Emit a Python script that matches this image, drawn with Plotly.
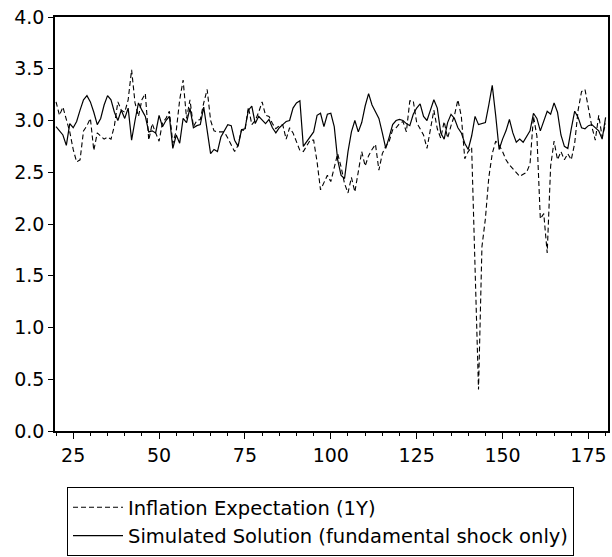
import plotly.graph_objects as go

obs = list(range(20, 181))

inflation_expectation = [
    3.18, 3.05, 3.13, 3.02, 2.89, 2.72, 2.60, 2.62, 2.90, 2.95,   # 20-29
    3.02, 2.71, 2.88, 2.85, 2.82, 2.84, 2.82, 2.95, 3.18, 3.10,   # 30-39
    3.08, 3.20, 3.49, 3.17, 3.04, 3.20, 3.26, 2.81, 2.97, 2.88,   # 40-49
    2.80, 2.98, 3.02, 3.09, 2.78, 2.90, 3.20, 3.39, 3.02, 3.20,   # 50-59
    2.94, 3.00, 3.01, 3.17, 3.30, 3.00, 2.90, 2.89, 2.89, 2.89,   # 60-69
    2.83, 2.76, 2.70, 2.76, 2.91, 2.90, 3.13, 2.96, 3.00, 3.08,   # 70-79
    3.18, 3.05, 3.04, 2.97, 2.92, 2.95, 2.96, 2.82, 2.93, 2.88,   # 80-89
    2.80, 2.71, 2.70, 2.76, 2.81, 2.81, 2.60, 2.33, 2.40, 2.47,   # 90-99
    2.41, 2.55, 2.68, 2.55, 2.39, 2.30, 2.45, 2.31, 2.50, 2.70,   # 100-109
    2.56, 2.66, 2.72, 2.77, 2.52, 2.68, 2.75, 2.80, 2.91, 2.93,   # 110-119
    2.97, 2.99, 2.89, 3.19, 3.19, 2.98, 2.92, 2.86, 2.73, 2.92,   # 120-129
    3.10, 2.92, 2.83, 2.99, 2.83, 2.95, 3.05, 3.20, 3.04, 2.63,   # 130-139
    2.70, 2.74, 1.55, 0.40, 1.78, 2.05, 2.45, 2.68, 2.80, 2.76,   # 140-149
    2.70, 2.62, 2.57, 2.53, 2.49, 2.46, 2.48, 2.50, 2.58, 3.04,   # 150-159
    2.85, 2.05, 2.10, 1.72, 2.56, 2.80, 2.62, 2.70, 2.62, 2.68,   # 160-169
    2.62, 2.78, 3.10, 3.28, 3.30, 3.10, 2.94, 2.81, 3.05, 2.84,   # 170-179
    2.97,                                                         # 180
]

simulated_solution = [
    2.94, 2.90, 2.86, 2.76, 2.97, 2.93, 2.99, 3.10, 3.20, 3.24,   # 20-29
    3.18, 3.08, 2.96, 3.02, 3.15, 3.24, 3.20, 3.08, 3.00, 3.10,   # 30-39
    3.02, 3.12, 2.81, 3.00, 3.17, 3.10, 3.04, 2.89, 2.90, 2.88,   # 40-49
    3.05, 2.94, 3.00, 3.04, 2.73, 2.86, 2.78, 3.02, 2.98, 3.12,   # 50-59
    2.93, 2.95, 2.96, 3.13, 2.90, 2.68, 2.72, 2.70, 2.84, 2.90,   # 60-69
    2.96, 2.95, 2.81, 2.75, 2.91, 2.92, 3.10, 3.14, 2.97, 3.04,   # 70-79
    3.00, 2.97, 3.01, 2.93, 2.88, 2.93, 2.96, 2.99, 3.00, 3.12,   # 80-89
    3.17, 3.19, 2.75, 2.80, 2.85, 2.89, 3.05, 3.07, 2.94, 3.06,   # 90-99
    3.07, 2.94, 2.62, 2.47, 2.44, 2.70, 2.89, 3.00, 2.89, 2.98,   # 100-109
    3.14, 3.26, 3.15, 3.08, 3.02, 2.88, 2.73, 2.84, 2.96, 3.00,   # 110-119
    3.01, 3.00, 2.97, 2.95, 3.06, 3.12, 3.16, 3.04, 3.00, 3.10,   # 120-129
    3.20, 3.12, 2.88, 2.82, 2.98, 3.06, 3.02, 2.93, 2.88, 2.78,   # 130-139
    2.72, 2.85, 3.04, 2.96, 2.97, 2.98, 3.15, 3.34, 3.05, 2.72,   # 140-149
    2.82, 2.90, 3.01, 2.88, 2.79, 2.82, 2.79, 2.84, 2.90, 3.07,   # 150-159
    3.02, 2.90, 3.00, 3.09, 3.06, 3.17, 3.08, 2.86, 2.75, 2.73,   # 160-169
    2.92, 3.09, 3.03, 2.93, 2.92, 2.95, 2.96, 2.93, 2.90, 2.82,   # 170-179
    3.03,                                                         # 180
]

x_ticks = [25, 50, 75, 100, 125, 150, 175]
y_ticks = [0.0, 0.5, 1.0, 1.5, 2.0, 2.5, 3.0, 3.5, 4.0]

FONT = "DejaVu Sans, Liberation Sans, Arial, sans-serif"

fig = go.Figure()
fig.add_trace(go.Scatter(
    x=obs, y=inflation_expectation, mode="lines",
    name="Inflation Expectation (1Y)",
    line=dict(color="black", width=1.1, dash="5px,3px"),
))
fig.add_trace(go.Scatter(
    x=obs, y=simulated_solution, mode="lines",
    name="Simulated Solution (fundamental shock only)",
    line=dict(color="black", width=1.2),
))

fig.update_layout(
    width=612, height=557,
    margin=dict(l=55, r=4, t=17, b=126, autoexpand=False),
    paper_bgcolor="white", plot_bgcolor="white",
    font=dict(family=FONT, size=19, color="black"),
    showlegend=True,
    legend=dict(
        x=0.0217, y=-0.1353, xanchor="left", yanchor="top",
        bordercolor="black", borderwidth=1,
        font=dict(family=FONT, size=19.5, color="black"),
        itemwidth=50, tracegroupgap=0,
        bgcolor="white",
    ),
)
fig.update_xaxes(
    range=[19.7, 180.7],
    tickvals=x_ticks, ticktext=[str(v) for v in x_ticks],
    ticks="outside", ticklen=6, tickwidth=1, tickcolor="black",
    minor=dict(dtick=5, tick0=0, ticks="outside", ticklen=3, tickcolor="black", tickwidth=1),
    showline=True, linecolor="black", linewidth=1.5, mirror=True,
    showgrid=False, zeroline=False,
    tickfont=dict(family=FONT, size=19),
)
fig.update_yaxes(
    range=[0, 4.0],
    tickvals=y_ticks, ticktext=[f"{v:.1f}" for v in y_ticks],
    ticks="outside", ticklen=5, tickwidth=1, tickcolor="black",
    showline=True, linecolor="black", linewidth=1.5, mirror=True,
    showgrid=False, zeroline=False,
    tickfont=dict(family=FONT, size=19),
)

fig.write_html(
    "out.html",
    config={"displayModeBar": False},
    post_script="document.body.style.margin='0';document.body.style.padding='0';",
)
